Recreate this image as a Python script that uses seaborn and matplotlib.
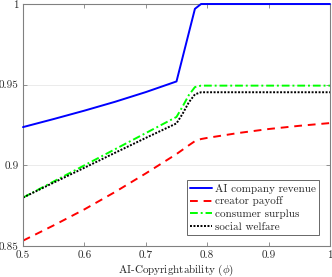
import numpy as np
import pandas as pd
import matplotlib
matplotlib.use("Agg")
import matplotlib.pyplot as plt
import seaborn as sns
from matplotlib.ticker import FixedLocator, FuncFormatter

# values
phi = [0.50, 0.55, 0.60, 0.65, 0.70, 0.75, 0.76, 0.77, 0.78, 0.79,
       0.80, 0.85, 0.90, 0.95, 1.00]
ai_revenue = [0.9237, 0.9287, 0.9339, 0.9394, 0.9454, 0.9520, 0.9670, 0.9820,
              0.9970, 1.0000, 1.0000, 1.0000, 1.0000, 1.0000, 1.0000]
creator_payoff = [0.8533, 0.8628, 0.8727, 0.8835, 0.8950, 0.9070, 0.9097, 0.9124,
                  0.9150, 0.9163, 0.9170, 0.9200, 0.9225, 0.9245, 0.9262]
consumer_surplus = [0.8800, 0.8900, 0.9000, 0.9100, 0.9200, 0.9300, 0.9365, 0.9435,
                    0.9485, 0.9494, 0.9494, 0.9494, 0.9494, 0.9494, 0.9494]
social_welfare = [0.8800, 0.8893, 0.8985, 0.9078, 0.9170, 0.9260, 0.9320, 0.9390,
                  0.9440, 0.9453, 0.9453, 0.9453, 0.9453, 0.9453, 0.9453]

x_ticks = [0.5, 0.6, 0.7, 0.8, 0.9, 1.0]
y_ticks = [0.85, 0.9, 0.95, 1.0]

sns.set_style("white")
plt.rcParams["font.family"] = ["cmr10", "DejaVu Serif"]
plt.rcParams["mathtext.fontset"] = "cm"
plt.rcParams["axes.unicode_minus"] = False

fig = plt.figure(figsize=(3.32, 2.77), dpi=100)
ax = fig.add_axes([23 / 332, 1 - 246 / 277, 307 / 332, 242 / 277])

df = pd.DataFrame({"phi": phi, "rev": ai_revenue, "cre": creator_payoff,
                   "cs": consumer_surplus, "sw": social_welfare})

sns.lineplot(data=df, x="phi", y="rev", ax=ax, color="#0000ff", lw=1.4,
             linestyle="-", label="AI company revenue", clip_on=False, zorder=5)
sns.lineplot(data=df, x="phi", y="cre", ax=ax, color="#ff0000", lw=1.4,
             linestyle=(0, (4, 3)), label="creator payoff")
sns.lineplot(data=df, x="phi", y="cs", ax=ax, color="#00ff00", lw=1.4,
             linestyle=(0, (4, 1.5, 1, 1.5)), label="consumer surplus")
sns.lineplot(data=df, x="phi", y="sw", ax=ax, color="black", lw=1.4,
             linestyle=(0, (1, 0.8)), label="social welfare")

ax.set_xlim(0.5, 1.0)
ax.set_ylim(0.85, 1.0)
ax.xaxis.set_major_locator(FixedLocator(x_ticks))
ax.yaxis.set_major_locator(FixedLocator(y_ticks))
fmt = FuncFormatter(lambda v, p: "%g" % v)
ax.xaxis.set_major_formatter(fmt)
ax.yaxis.set_major_formatter(fmt)

ax.yaxis.grid(True, color="#e8e8e8", lw=0.6)
ax.xaxis.grid(False)
ax.set_axisbelow(True)

for s in ax.spines.values():
    s.set_color("#808080")
    s.set_linewidth(0.8)
ax.tick_params(direction="in", length=3, width=0.6, color="#808080",
               labelsize=8, labelcolor="#262626", top=True, right=True,
               bottom=True, left=True, pad=3)

ax.set_xlabel(r"AI-Copyrightability ($\phi$)", fontsize=8, color="#262626", labelpad=2)
ax.set_ylabel("")

leg = ax.legend(loc="lower right", fontsize=8, frameon=True, fancybox=False,
                handlelength=2.0, handletextpad=0.2, labelspacing=0.25,
                borderpad=0.3, borderaxespad=1.0)
leg.get_frame().set_edgecolor("#404040")
leg.get_frame().set_linewidth(0.7)

fig.savefig("out.png", dpi=100)
